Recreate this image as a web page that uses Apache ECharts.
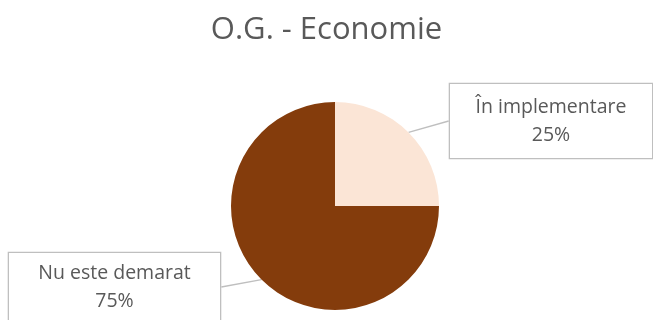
<!DOCTYPE html>
<html><head><meta charset="utf-8">
<script src="https://cdn.jsdelivr.net/npm/echarts@6/dist/echarts.min.js"></script>
<style>html,body{margin:0;padding:0;background:#fff}#c{width:653px;height:320px}</style>
</head><body><div id="c"></div>
<script>
const titleText = 'O.G. - Economie';
const categories = ['În implementare', 'Nu este demarat'];
const values = [25, 75];
const colors = ['#FBE5D6', '#843C0C'];

const chart = echarts.init(document.getElementById('c'), null, {renderer: 'canvas'});
const boxes = [
  {x: 551, y: 120, w: 202, h: 74},
  {x: 114.5, y: 286, w: 211, h: 68}
];
chart.setOption({
  animation: false,
  title: {
    text: titleText, left: 'center', top: 10,
    textStyle: {fontFamily: 'Open Sans', fontWeight: 'normal', fontSize: 31, color: '#595959'}
  },
  series: [{
    type: 'pie',
    center: [335, 206],
    radius: 104,
    startAngle: 90,
    clockwise: true,
    data: categories.map((c, i) => ({
      name: c, value: values[i], itemStyle: {color: colors[i]},
      label: {width: boxes[i].w, height: boxes[i].h - 12, padding: [6, 0]}
    })),
    label: {
      show: true,
      position: 'outside',
      formatter: '{b}\n{d}%',
      fontFamily: 'Open Sans',
      fontSize: 19.5,
      lineHeight: 28,
      color: '#595959',
      backgroundColor: '#fff',
      borderColor: '#bfbfbf',
      borderWidth: 1.3,
      align: 'center'
    },
    labelLine: {show: true, length: 10, length2: 0, lineStyle: {color: '#bfbfbf', width: 1.3}},
    labelLayout: function (p) {
      const b = boxes[p.dataIndex];
      return {x: b.x, y: b.y + 1, align: 'center', verticalAlign: 'middle'};
    }
  }]
});
</script></body></html>
